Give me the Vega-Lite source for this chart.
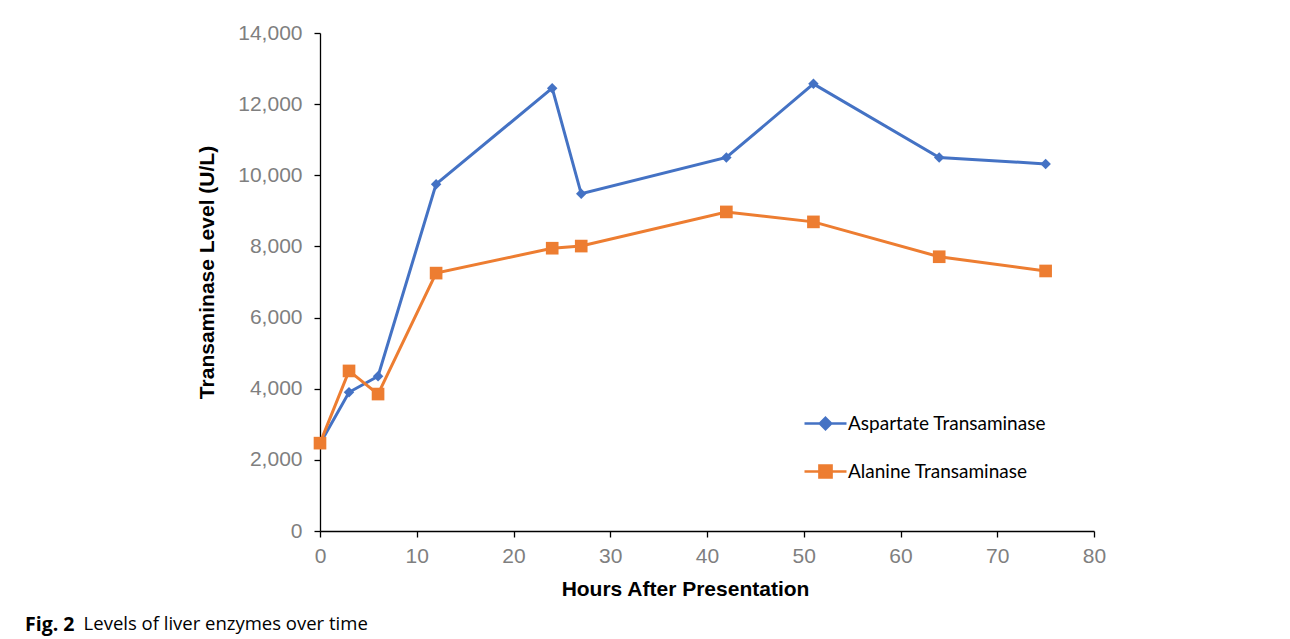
{
  "$schema": "https://vega.github.io/schema/vega-lite/v6.json",
  "width": 774,
  "height": 498,
  "autosize": {"type": "none"},
  "padding": {"left": 320, "top": 33, "right": 196, "bottom": 108},
  "background": "white",
  "title": {
    "text": "Fig. 2",
    "subtitle": "\u200b\u2003\u2003\u2003\u2006Levels of liver enzymes over time",
    "orient": "bottom",
    "anchor": "start",
    "frame": "group",
    "dx": -295,
    "offset": 17,
    "font": "Open Sans",
    "fontSize": 19.5,
    "fontWeight": "bold",
    "color": "black",
    "lineHeight": 21,
    "subtitleFont": "Open Sans",
    "subtitleFontSize": 18.5,
    "subtitleFontWeight": "normal",
    "subtitleColor": "black",
    "subtitleLineHeight": 21,
    "subtitlePadding": -21
  },
  "data": {
    "values": [
      {"hours": 0, "series": "Aspartate Transaminase", "level": 2450},
      {"hours": 3, "series": "Aspartate Transaminase", "level": 3900},
      {"hours": 6, "series": "Aspartate Transaminase", "level": 4350},
      {"hours": 12, "series": "Aspartate Transaminase", "level": 9750},
      {"hours": 24, "series": "Aspartate Transaminase", "level": 12450},
      {"hours": 27, "series": "Aspartate Transaminase", "level": 9480},
      {"hours": 42, "series": "Aspartate Transaminase", "level": 10500},
      {"hours": 51, "series": "Aspartate Transaminase", "level": 12570},
      {"hours": 64, "series": "Aspartate Transaminase", "level": 10500},
      {"hours": 75, "series": "Aspartate Transaminase", "level": 10320},
      {"hours": 0, "series": "Alanine Transaminase", "level": 2470},
      {"hours": 3, "series": "Alanine Transaminase", "level": 4500},
      {"hours": 6, "series": "Alanine Transaminase", "level": 3850},
      {"hours": 12, "series": "Alanine Transaminase", "level": 7250},
      {"hours": 24, "series": "Alanine Transaminase", "level": 7950},
      {"hours": 27, "series": "Alanine Transaminase", "level": 8010},
      {"hours": 42, "series": "Alanine Transaminase", "level": 8970},
      {"hours": 51, "series": "Alanine Transaminase", "level": 8690},
      {"hours": 64, "series": "Alanine Transaminase", "level": 7710},
      {"hours": 75, "series": "Alanine Transaminase", "level": 7310}
    ]
  },
  "encoding": {
    "x": {
      "field": "hours",
      "type": "quantitative",
      "scale": {"domain": [0, 80], "nice": false},
      "axis": {
        "title": "Hours After Presentation",
        "values": [0, 10, 20, 30, 40, 50, 60, 70, 80],
        "labelPadding": 8,
        "labelFlush": false,
        "titleX": 365,
        "titleY": 47
      }
    },
    "y": {
      "field": "level",
      "type": "quantitative",
      "scale": {"domain": [0, 14000], "nice": false},
      "axis": {
        "title": "Transaminase Level (U/L)",
        "values": [0, 2000, 4000, 6000, 8000, 10000, 12000, 14000],
        "format": ",.0f",
        "labelPadding": 12,
        "titleX": -103,
        "titleY": 239
      }
    },
    "color": {
      "field": "series",
      "type": "nominal",
      "sort": null,
      "scale": {"domain": ["Aspartate Transaminase", "Alanine Transaminase"], "range": ["#4472C4", "#ED7D31"]},
      "legend": {
        "title": null,
        "orient": "none",
        "legendX": 483,
        "legendY": 368,
        "symbolSize": 1764,
        "symbolStrokeWidth": 2.5,
        "labelFont": "Lato",
        "labelFontSize": 19,
        "labelColor": "black",
        "labelLimit": 400,
        "labelOffset": 0,
        "rowPadding": 14,
        "encode": {
          "symbols": {
            "update": {
              "shape": {"signal": "datum.value === 'Aspartate Transaminase' ? 'M-1,0H1M0,-0.27L0.27,0L0,0.27L-0.27,0Z' : 'M-1,0H1M-0.29,-0.29H0.29V0.29H-0.29Z'"},
              "fill": {"signal": "datum.value === 'Aspartate Transaminase' ? '#4472C4' : '#ED7D31'"},
              "stroke": {"signal": "datum.value === 'Aspartate Transaminase' ? '#4472C4' : '#ED7D31'"},
              "size": {"value": 1764},
              "strokeWidth": {"value": 2.5},
              "opacity": {"value": 1}
            }
          }
        }
      }
    }
  },
  "layer": [
    {
      "mark": {"type": "line", "strokeWidth": 3}
    },
    {
      "transform": [{"filter": "datum.series === 'Aspartate Transaminase'"}],
      "mark": {"type": "point", "filled": true, "opacity": 1, "shape": "diamond", "size": 110}
    },
    {
      "transform": [{"filter": "datum.series === 'Alanine Transaminase'"}],
      "mark": {"type": "point", "filled": true, "opacity": 1, "shape": "square", "size": 160}
    }
  ],
  "config": {
    "view": {"stroke": null},
    "axis": {
      "grid": false,
      "domainColor": "black",
      "domainWidth": 1.3,
      "tickColor": "black",
      "tickWidth": 1.3,
      "tickSize": 6,
      "labelFont": "Liberation Sans",
      "labelFontSize": 21,
      "labelColor": "#7f7f7f",
      "titleFont": "Liberation Sans",
      "titleFontSize": 21,
      "titleFontWeight": "bold",
      "titleColor": "black"
    }
  }
}
